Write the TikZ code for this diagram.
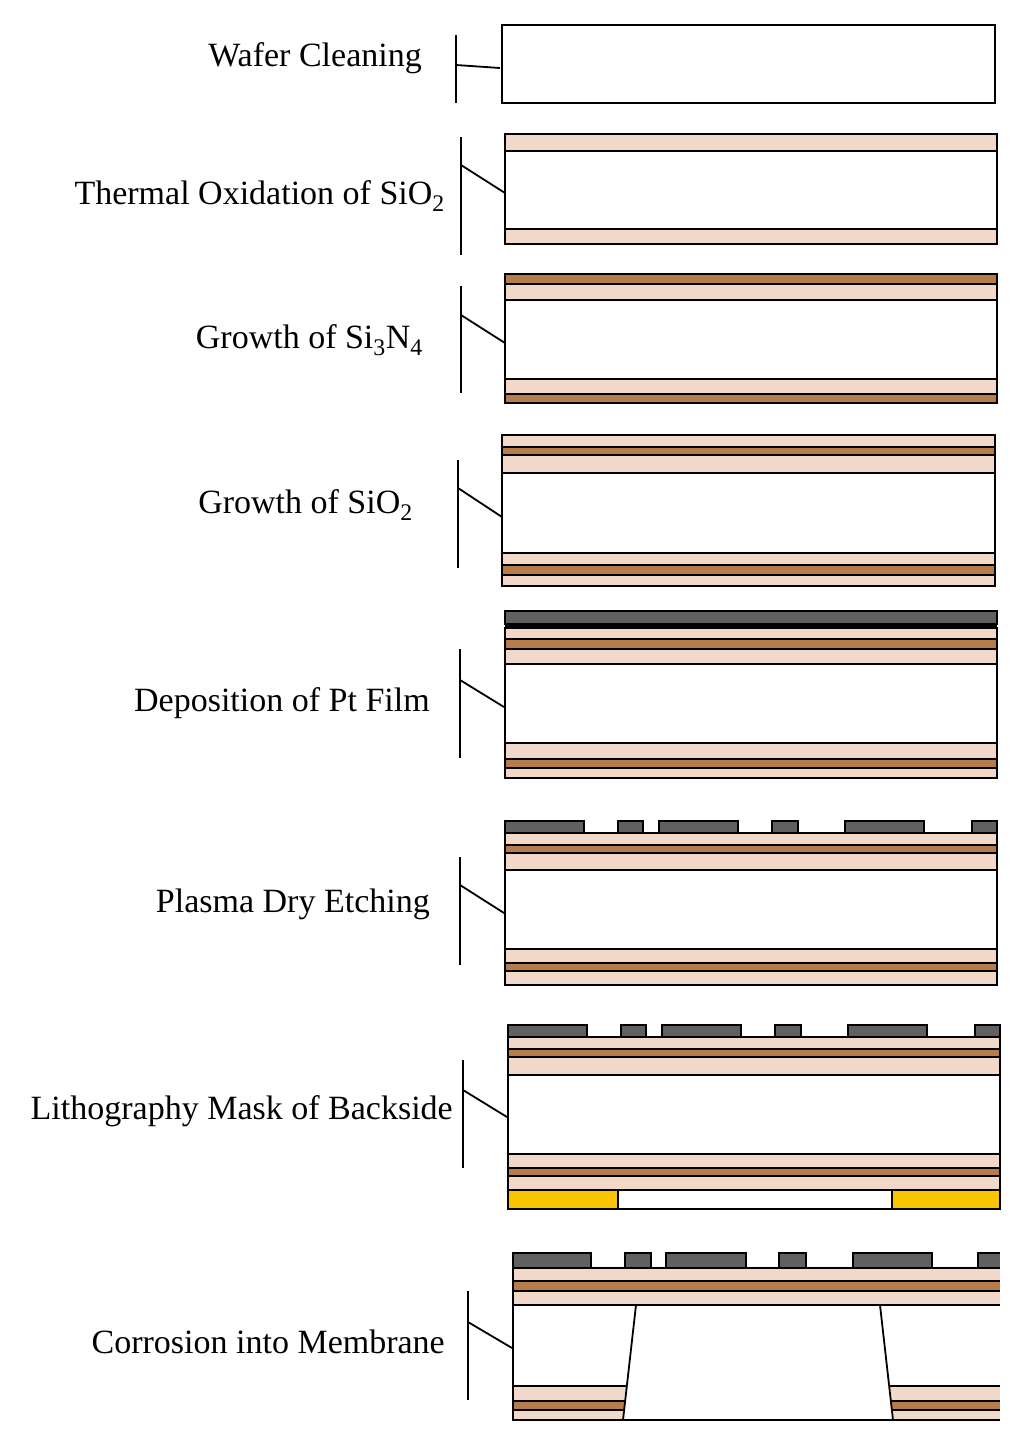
\documentclass[tikz,border=0pt]{standalone}
\usepackage{fontspec}
\setmainfont{Liberation Serif}
\definecolor{ox}{RGB}{242,216,200}
\definecolor{ni}{RGB}{180,125,75}
\definecolor{pt}{RGB}{96,96,96}
\definecolor{mk}{RGB}{248,196,0}
\tikzset{ox/.style={draw=black,line width=1.8pt,fill=ox},
ni/.style={draw=black,line width=1.8pt,fill=ni},
wf/.style={draw=black,line width=1.8pt,fill=white},
ptf/.style={draw=black,line width=1.8pt,fill=pt},
mkf/.style={draw=black,line width=1.8pt,fill=mk},
brk/.style={line width=1.8pt},
lbl/.style={anchor=east,font=\fontsize{34}{38}\selectfont,inner sep=0pt}}
\newcommand{\Lay}[5]{\path[#5] (#1,#3) rectangle (#2,#4);}
\newcommand{\Brk}[5]{\draw[brk] (#1,#2)--(#1,#3); \draw[brk] (#1,#4)--(#1+44,#5);}
\begin{document}
\begin{tikzpicture}[x=1pt,y=-1pt]
\useasboundingbox[fill=white] (0,0) rectangle (1024,1446);
% 1
\Lay{502}{995}{25}{103}{wf}
\Brk{456}{35}{103}{65}{68}
\node[lbl] (t1) at (422,58) {Wafer Cleaning};
% 2
\Lay{505}{997}{134}{151}{ox}\Lay{505}{997}{151}{229}{wf}\Lay{505}{997}{229}{244}{ox}
\Brk{461}{137}{255}{165}{193}
\node[lbl] (t2) at (445,196) {Thermal Oxidation of SiO\textsubscript{2}};
% 3
\Lay{505}{997}{274}{284}{ni}\Lay{505}{997}{284}{300}{ox}\Lay{505}{997}{300}{379}{wf}\Lay{505}{997}{379}{394}{ox}\Lay{505}{997}{394}{403}{ni}
\Brk{461}{286}{393}{315}{343}
\node[lbl] (t3) at (423,340) {Growth of Si\textsubscript{3}N\textsubscript{4}};
% 4
\Lay{502}{995}{435}{447}{ox}\Lay{502}{995}{447}{455}{ni}\Lay{502}{995}{455}{473}{ox}\Lay{502}{995}{473}{553}{wf}\Lay{502}{995}{553}{565}{ox}\Lay{502}{995}{565}{575}{ni}\Lay{502}{995}{575}{586}{ox}
\Brk{458}{460}{568}{488}{517}
\node[lbl] (t4) at (413,505) {Growth of SiO\textsubscript{2}};
% 5
\Lay{505}{997}{611}{624}{ptf}\path[fill=black] (505,624) rectangle (997,628);
\Lay{505}{997}{628}{639}{ox}\Lay{505}{997}{639}{649}{ni}\Lay{505}{997}{649}{664}{ox}\Lay{505}{997}{664}{743}{wf}\Lay{505}{997}{743}{759}{ox}\Lay{505}{997}{759}{768}{ni}\Lay{505}{997}{768}{778}{ox}
\Brk{460}{649}{758}{680}{707}
\node[lbl] (t5) at (430,703) {Deposition of Pt Film};
% 6
\foreach \a/\b in {505/584,618/643,659/738,772/798,845/924,972/997}{\Lay{\a}{\b}{821}{833}{ptf}}
\Lay{505}{997}{833}{845}{ox}\Lay{505}{997}{845}{853}{ni}\Lay{505}{997}{853}{870}{ox}\Lay{505}{997}{870}{949}{wf}\Lay{505}{997}{949}{963}{ox}\Lay{505}{997}{963}{971}{ni}\Lay{505}{997}{971}{985}{ox}
\Brk{460}{857}{965}{885}{913}
\node[lbl] (t6) at (430,904) {Plasma Dry Etching};
% 7
\foreach \a/\b in {508/587,621/646,662/741,775/801,848/927,975/1000}{\Lay{\a}{\b}{1025}{1037}{ptf}}
\Lay{508}{1000}{1037}{1049}{ox}\Lay{508}{1000}{1049}{1057}{ni}\Lay{508}{1000}{1057}{1075}{ox}\Lay{508}{1000}{1075}{1154}{wf}\Lay{508}{1000}{1154}{1168}{ox}\Lay{508}{1000}{1168}{1176}{ni}\Lay{508}{1000}{1176}{1190}{ox}
\Lay{508}{618}{1190}{1209}{mkf}\Lay{618}{892}{1190}{1209}{wf}\Lay{892}{1000}{1190}{1209}{mkf}
\Brk{463}{1060}{1168}{1090}{1117}
\node[lbl] (t7) at (453,1111) {Lithography Mask of Backside};
% 8
\foreach \a/\b in {513/591,625/651,666/746,779/806,853/932,978/1001}{\Lay{\a}{\b}{1253}{1268}{ptf}}
\Lay{513}{1001}{1268}{1281}{ox}\Lay{513}{1001}{1281}{1291}{ni}\Lay{513}{1001}{1291}{1305}{ox}
\Lay{513}{1001}{1305}{1386}{wf}
\Lay{513}{1001}{1386}{1401}{ox}\Lay{513}{1001}{1401}{1410}{ni}\Lay{513}{1001}{1410}{1420}{ox}
\path[fill=white] (636,1306) -- (880,1306) -- (893,1419) -- (623,1419) -- cycle;
\draw[line width=1.8pt] (636,1305) -- (623,1420) -- (893,1420) -- (880,1305);
\draw[line width=1.8pt] (513,1305) -- (513,1420);
\path[fill=white] (1000,1240) rectangle (1024,1430);
\Brk{468}{1291}{1400}{1322}{1348}
\node[lbl] (t8) at (445,1342) {Corrosion into Membrane};
\end{tikzpicture}
\end{document}
